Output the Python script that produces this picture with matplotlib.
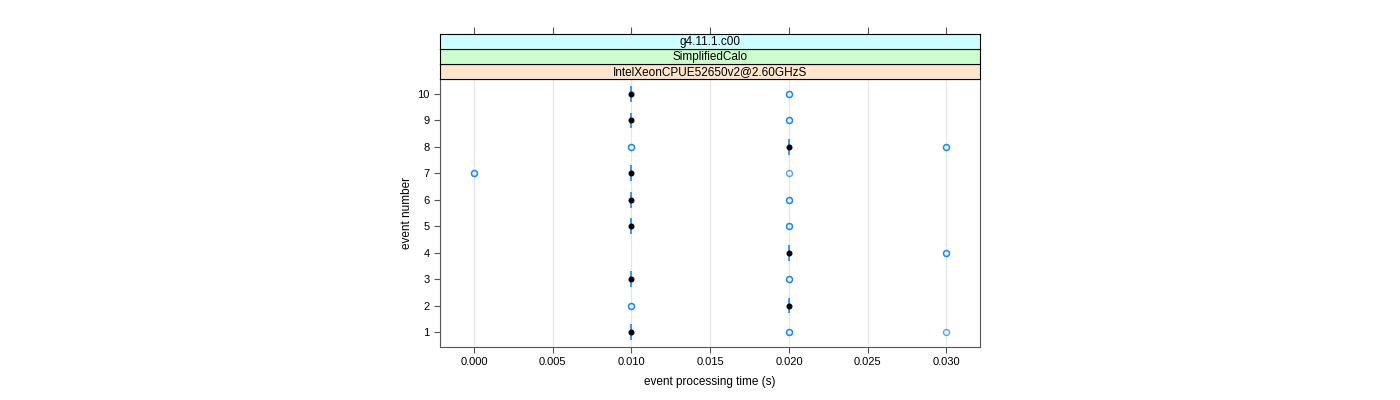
import matplotlib
matplotlib.use("Agg")
import matplotlib.pyplot as plt
from matplotlib.patches import Rectangle

plt.rcParams['font.family'] = ['Liberation Sans', 'DejaVu Sans']

# data
events = [1, 2, 3, 4, 5, 6, 7, 8, 9, 10]
mean_time = [0.010, 0.020, 0.010, 0.020, 0.010, 0.010, 0.010, 0.020, 0.010, 0.010]
run_event = [1, 1, 1, 2, 2, 3, 3, 4, 4, 5, 5, 6, 6, 7, 7, 7, 8, 8, 8, 8, 9, 9, 10, 10]
run_time = [0.020, 0.020, 0.030, 0.010, 0.010, 0.020, 0.020, 0.030, 0.030,
            0.020, 0.020, 0.020, 0.020, 0.000, 0.000, 0.020,
            0.010, 0.010, 0.030, 0.030, 0.020, 0.020, 0.020, 0.020]
strip_labels = ["IntelXeonCPUE52650v2@2.60GHzS", "SimplifiedCalo", "g4.11.1.c00"]
strip_colors = ["#ffe5cc", "#ccffcc", "#ccffff"]
xticks = [0.000, 0.005, 0.010, 0.015, 0.020, 0.025, 0.030]

blue = "#0080ff"
frame = "#555555"

fig = plt.figure(figsize=(14, 4), dpi=100)
ax = fig.add_axes([440/1400, 53/400, 540/1400, 268/400])

xlim = (-0.00216, 0.03213)
ax.set_xlim(*xlim)
ax.set_ylim(0.43, 10.57)

for t in xticks:
    ax.axvline(t, color="#e6e6e6", lw=0.8, zorder=0)

# open circles for individual runs
ax.plot(run_time, run_event, 'o', ms=4.3, mfc='none', mec=blue, mew=1.0,
        alpha=0.7, linestyle='none', zorder=2)

# vertical bars and filled dots
ax.vlines(mean_time, [e - 0.3 for e in events], [e + 0.3 for e in events],
          color=blue, lw=1.1, zorder=3)
ax.plot(mean_time, events, 'o', ms=3.3, color='black', linestyle='none', zorder=4)

ax.set_xticks(xticks)
ax.set_xticklabels(["%.3f" % t for t in xticks])
ax.set_yticks(events)
ax.tick_params(axis='both', labelsize=8, length=4, color=frame, direction='out',
               top=False, right=False)
for s in ax.spines.values():
    s.set_color(frame)
ax.set_xlabel("event processing time (s)", fontsize=8.5, labelpad=6)
ax.set_ylabel("event number", fontsize=8.5, labelpad=3)

# strips
strip_h = 15/400
for i, (lab, col) in enumerate(zip(strip_labels, strip_colors)):
    sax = fig.add_axes([440/1400, 321/400 + i*strip_h, 540/1400, strip_h])
    sax.set_xlim(*xlim)
    sax.set_ylim(0, 1)
    sax.add_patch(Rectangle((0, 0), 1, 1, transform=sax.transAxes, facecolor=col,
                            edgecolor='none'))
    sax.text(0.5, 0.48, lab, transform=sax.transAxes, ha='center', va='center',
             fontsize=8.5)
    sax.set_yticks([])
    for s in sax.spines.values():
        s.set_color('black')
        s.set_linewidth(0.8)
    if i == len(strip_labels) - 1:
        sax.set_xticks(xticks)
        sax.tick_params(axis='x', bottom=False, labelbottom=False, top=True,
                        labeltop=False, length=5, color=frame)
    else:
        sax.set_xticks([])

fig.savefig("out.png", dpi=100)
